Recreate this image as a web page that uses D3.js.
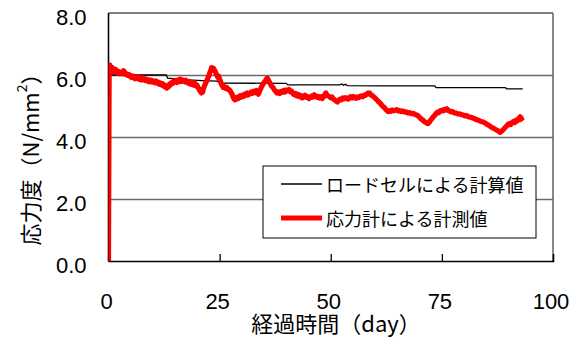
<!DOCTYPE html>
<html>
<head>
<meta charset="utf-8">
<script src="https://cdn.jsdelivr.net/npm/d3@7"></script>
<style>
  html, body { margin: 0; padding: 0; background: #fff; }
  svg { display: block; }
</style>
</head>
<body>
<svg id="chart" width="581" height="338"></svg>
<script>
// Axis ticks
const yTicks = [0, 2, 4, 6, 8];
const yTickLabels = ["0.0", "2.0", "4.0", "6.0", "8.0"];
const xTicks = [0, 25, 50, 75, 100];
const xTickLabels = ["0", "25", "50", "75", "100"];

// Series names
const seriesNames = ["ロードセルによる計算値", "応力計による計測値"];

// Load-cell calculated stress: [day, N/mm2]
const loadCellSeries = [
  [0.2, 6.0], [13, 6.0], [13.3, 5.9], [16, 5.86], [21, 5.82], [24.5, 5.8], [25, 5.74],
  [40, 5.73], [40.3, 5.68], [52, 5.68], [52.5, 5.71], [52.8, 5.67], [53.3, 5.7], [53.7, 5.66],
  [61, 5.65], [73.4, 5.65], [73.7, 5.59], [89.3, 5.59], [89.6, 5.55], [93.2, 5.55]
];

// Stress-gauge measured stress: [day, N/mm2]
const gaugeSeries = [
  [0, 0], [0.15, 6.25], [0.3, 6.32], [0.5, 6.2], [0.7, 6.15], [0.85, 6.24], [1.0, 6.2], [1.2, 6.1], [1.4, 6.16], [1.6, 6.18],
  [1.8, 6.1], [2.0, 6.07], [2.2, 6.12], [2.4, 6.1], [2.6, 6.04], [2.8, 6.07], [3.0, 6.04], [3.2, 6.09], [3.4, 6.14], [3.6, 6.1],
  [3.8, 6.02], [4.0, 6.04], [4.3, 5.99], [4.6, 6.02], [4.8, 5.96], [5.0, 5.98], [5.2, 5.92], [5.45, 5.97], [5.7, 5.93], [5.95, 5.88],
  [6.2, 5.92], [6.45, 5.89], [6.7, 5.94], [6.95, 5.86], [7.2, 5.89], [7.45, 5.84], [7.7, 5.91], [7.95, 5.85], [8.2, 5.82], [8.45, 5.87],
  [8.7, 5.83], [8.95, 5.79], [9.2, 5.84], [9.45, 5.78], [9.7, 5.83], [9.95, 5.77], [10.2, 5.8], [10.45, 5.75], [10.7, 5.81], [10.95, 5.74],
  [11.2, 5.77], [11.45, 5.7], [11.7, 5.74], [11.95, 5.68], [12.2, 5.72], [12.45, 5.64], [12.7, 5.67], [12.9, 5.6], [13.1, 5.58], [13.3, 5.64],
  [13.5, 5.62], [13.7, 5.7], [13.9, 5.67], [14.15, 5.75], [14.4, 5.73], [14.65, 5.8], [14.9, 5.77], [15.15, 5.82], [15.4, 5.76], [15.65, 5.84],
  [15.9, 5.8], [16.15, 5.86], [16.4, 5.79], [16.65, 5.84], [16.9, 5.82], [17.15, 5.78], [17.4, 5.83], [17.65, 5.76], [17.9, 5.79], [18.15, 5.72],
  [18.4, 5.76], [18.65, 5.7], [18.9, 5.73], [19.15, 5.68], [19.4, 5.74], [19.65, 5.65], [19.9, 5.68], [20.1, 5.6], [20.3, 5.57], [20.5, 5.5],
  [20.7, 5.47], [20.9, 5.42], [21.05, 5.48], [21.2, 5.45], [21.4, 5.58], [21.6, 5.65], [21.8, 5.72], [22.0, 5.78], [22.2, 5.84], [22.4, 5.92],
  [22.6, 5.98], [22.8, 6.08], [23.0, 6.14], [23.2, 6.24], [23.4, 6.18], [23.6, 6.22], [23.8, 6.16], [24.0, 6.12], [24.2, 6.04], [24.4, 6.0],
  [24.6, 5.92], [24.8, 5.96], [25.0, 5.86], [25.2, 5.8], [25.4, 5.7], [25.6, 5.66], [25.8, 5.6], [26.0, 5.63], [26.3, 5.57], [26.6, 5.6],
  [26.9, 5.53], [27.2, 5.52], [27.5, 5.46], [27.8, 5.38], [28.0, 5.3], [28.2, 5.24], [28.4, 5.2], [28.6, 5.27], [28.8, 5.22], [29.0, 5.28],
  [29.25, 5.25], [29.5, 5.32], [29.75, 5.28], [30.0, 5.34], [30.3, 5.31], [30.6, 5.38], [30.9, 5.35], [31.2, 5.42], [31.5, 5.36], [31.8, 5.4],
  [32.1, 5.45], [32.4, 5.41], [32.7, 5.48], [33.0, 5.43], [33.3, 5.5], [33.5, 5.46], [33.7, 5.38], [33.9, 5.44], [34.1, 5.52], [34.3, 5.58],
  [34.6, 5.66], [34.9, 5.74], [35.2, 5.8], [35.5, 5.86], [35.7, 5.9], [35.9, 5.85], [36.1, 5.8], [36.4, 5.72], [36.7, 5.64], [37.0, 5.6],
  [37.3, 5.52], [37.6, 5.48], [37.9, 5.42], [38.2, 5.45], [38.5, 5.4], [38.8, 5.47], [39.1, 5.44], [39.4, 5.5], [39.7, 5.45], [40.0, 5.52],
  [40.3, 5.49], [40.6, 5.53], [40.9, 5.46], [41.2, 5.48], [41.5, 5.4], [41.8, 5.36], [42.1, 5.4], [42.4, 5.32], [42.7, 5.37], [43.0, 5.3],
  [43.3, 5.34], [43.6, 5.26], [43.9, 5.3], [44.2, 5.35], [44.5, 5.28], [44.8, 5.3], [45.1, 5.24], [45.4, 5.27], [45.7, 5.32], [46.0, 5.29],
  [46.3, 5.36], [46.6, 5.33], [46.9, 5.28], [47.2, 5.31], [47.5, 5.26], [47.8, 5.3], [48.1, 5.24], [48.4, 5.3], [48.7, 5.38], [48.9, 5.42],
  [49.1, 5.36], [49.4, 5.33], [49.7, 5.3], [50.0, 5.26], [50.3, 5.29], [50.6, 5.22], [50.9, 5.2], [51.2, 5.16], [51.5, 5.13], [51.8, 5.18],
  [52.1, 5.22], [52.4, 5.2], [52.7, 5.26], [53.0, 5.23], [53.3, 5.27], [53.6, 5.24], [53.9, 5.22], [54.2, 5.28], [54.5, 5.3], [54.8, 5.26],
  [55.1, 5.31], [55.4, 5.28], [55.7, 5.25], [56.0, 5.29], [56.3, 5.27], [56.6, 5.31], [56.9, 5.33], [57.2, 5.3], [57.5, 5.35], [57.8, 5.34],
  [58.1, 5.38], [58.4, 5.42], [58.6, 5.39], [58.8, 5.41], [59.0, 5.36], [59.3, 5.34], [59.6, 5.3], [59.9, 5.27], [60.2, 5.22], [60.5, 5.18],
  [60.8, 5.13], [61.1, 5.09], [61.4, 5.04], [61.7, 4.99], [62.0, 4.96], [62.3, 4.9], [62.6, 4.86], [62.9, 4.82], [63.2, 4.85], [63.5, 4.83],
  [63.8, 4.87], [64.1, 4.84], [64.4, 4.86], [64.8, 4.88], [65.1, 4.84], [65.4, 4.86], [65.8, 4.82], [66.2, 4.84], [66.6, 4.8], [67.0, 4.81],
  [67.4, 4.77], [67.8, 4.79], [68.2, 4.75], [68.6, 4.76], [69.0, 4.72], [69.4, 4.71], [69.8, 4.66], [70.1, 4.62], [70.4, 4.57], [70.7, 4.55],
  [71.0, 4.5], [71.3, 4.48], [71.6, 4.45], [71.9, 4.43], [72.2, 4.48], [72.5, 4.55], [72.8, 4.6], [73.1, 4.66], [73.4, 4.7], [73.7, 4.76],
  [74.0, 4.8], [74.3, 4.78], [74.6, 4.84], [74.9, 4.86], [75.2, 4.84], [75.5, 4.89], [75.8, 4.87], [76.1, 4.91], [76.4, 4.86], [76.7, 4.84],
  [77.0, 4.81], [77.4, 4.82], [77.8, 4.78], [78.2, 4.77], [78.6, 4.74], [79.0, 4.75], [79.4, 4.72], [79.8, 4.71], [80.2, 4.68], [80.6, 4.69],
  [81.0, 4.65], [81.4, 4.64], [81.8, 4.62], [82.2, 4.6], [82.6, 4.57], [83.0, 4.55], [83.4, 4.53], [83.8, 4.5], [84.2, 4.49], [84.6, 4.46],
  [85.0, 4.42], [85.4, 4.39], [85.8, 4.35], [86.2, 4.31], [86.6, 4.28], [87.0, 4.25], [87.4, 4.22], [87.8, 4.18], [88.1, 4.15], [88.4, 4.18],
  [88.7, 4.22], [89.0, 4.27], [89.3, 4.32], [89.6, 4.36], [89.9, 4.41], [90.2, 4.44], [90.5, 4.4], [90.8, 4.46], [91.1, 4.5], [91.4, 4.47],
  [91.7, 4.54], [92.0, 4.52], [92.3, 4.6], [92.6, 4.65], [92.8, 4.62], [93.0, 4.56], [93.2, 4.52]
];

const svg = d3.select("#chart");
const margin = { left: 108.5, top: 13, right: 28, bottom: 77 };
const W = 581 - margin.left - margin.right;
const H = 338 - margin.top - margin.bottom;

const x = d3.scaleLinear().domain([0, 100]).range([0, W]);
const y = d3.scaleLinear().domain([0, 8]).range([H, 0]);

const g = svg.append("g").attr("transform", `translate(${margin.left},${margin.top})`);

svg.append("defs").append("clipPath").attr("id", "plotClip")
  .append("rect").attr("x", 0).attr("y", -3).attr("width", W).attr("height", H + 3);

// Horizontal gridlines
g.append("g")
  .call(d3.axisLeft(y).tickValues(yTicks.slice(1, 4)).tickSize(-W).tickFormat(""))
  .call(s => s.select(".domain").remove())
  .call(s => s.selectAll("line").attr("stroke", "#6a6a6a").attr("stroke-width", 1.3));

// Top and right frame
g.append("line").attr("x1", 0).attr("x2", W).attr("y1", y(8)).attr("y2", y(8))
  .attr("stroke", "#555").attr("stroke-width", 1.3);
g.append("line").attr("x1", W).attr("x2", W).attr("y1", 0).attr("y2", H)
  .attr("stroke", "#6a6a6a").attr("stroke-width", 1.6);

// X axis with inward ticks
g.append("g").attr("transform", `translate(0,${H})`)
  .call(d3.axisBottom(x).tickValues(xTicks.slice(1, 4)).tickSize(-7).tickFormat(""))
  .call(s => s.select(".domain").attr("stroke", "#000").attr("stroke-width", 1.6))
  .call(s => s.selectAll(".tick line").attr("stroke", "#000").attr("stroke-width", 1.3));

// Left axis
g.append("line").attr("x1", 0).attr("x2", 0).attr("y1", 0).attr("y2", H)
  .attr("stroke", "#000").attr("stroke-width", 1.6);

// Tick labels
const numFont = "'Liberation Sans', Arial, sans-serif";
g.append("g").selectAll("text").data(yTicks).join("text")
  .attr("x", -22).attr("y", d => y(d) + 4)
  .attr("text-anchor", "end").attr("dominant-baseline", "central")
  .attr("font-family", numFont).attr("font-size", 22).attr("fill", "#000")
  .text((d, i) => yTickLabels[i]);

g.append("g").selectAll("text").data(xTicks).join("text")
  .attr("x", d => x(d) - 2).attr("y", H + 40)
  .attr("text-anchor", "middle").attr("dominant-baseline", "central")
  .attr("font-family", numFont).attr("font-size", 22).attr("fill", "#000")
  .text((d, i) => xTickLabels[i]);

// Series
const line = d3.line().x(d => x(d[0])).y(d => y(d[1]));
const plot = g.append("g").attr("clip-path", "url(#plotClip)");

plot.append("path")
  .datum(loadCellSeries)
  .attr("d", line).attr("fill", "none")
  .attr("stroke", "#000").attr("stroke-width", 1.3);

plot.append("path")
  .datum(gaugeSeries)
  .attr("d", line).attr("fill", "none")
  .attr("stroke", "#ff0000").attr("stroke-width", 5.2)
  .attr("stroke-linejoin", "round");

// Axis titles
const jpFont = "'Noto Sans CJK JP', 'Noto Sans', sans-serif";
svg.append("text")
  .attr("x", 336).attr("y", 322)
  .attr("text-anchor", "middle").attr("dominant-baseline", "central")
  .attr("font-family", jpFont).attr("font-size", 22).attr("fill", "#000")
  .text("経過時間（day）");

const yTitle = svg.append("text")
  .attr("transform", "translate(29,154) rotate(-90)")
  .attr("text-anchor", "middle").attr("dominant-baseline", "central")
  .attr("font-family", jpFont).attr("font-size", 22).attr("fill", "#000");
yTitle.append("tspan").text("応力度（N/mm");
yTitle.append("tspan").attr("font-size", 14).attr("dy", -8).text("2");
yTitle.append("tspan").attr("dy", 8).text("）");

// Legend
const lg = svg.append("g").attr("transform", "translate(263,166)");
lg.append("rect").attr("width", 273).attr("height", 72)
  .attr("fill", "#fff").attr("stroke", "#000").attr("stroke-width", 1);
const legendStyles = [{ c: "#000", w: 1.3 }, { c: "#ff0000", w: 5 }];
seriesNames.forEach((name, i) => {
  const ly = 18 + i * 34;
  lg.append("line").attr("x1", 18).attr("x2", 59).attr("y1", ly).attr("y2", ly)
    .attr("stroke", legendStyles[i].c).attr("stroke-width", legendStyles[i].w);
  lg.append("text").attr("x", 63).attr("y", ly)
    .attr("dominant-baseline", "central")
    .attr("font-family", jpFont).attr("font-size", 18).attr("fill", "#000")
    .text(name);
});
</script>
</body>
</html>
